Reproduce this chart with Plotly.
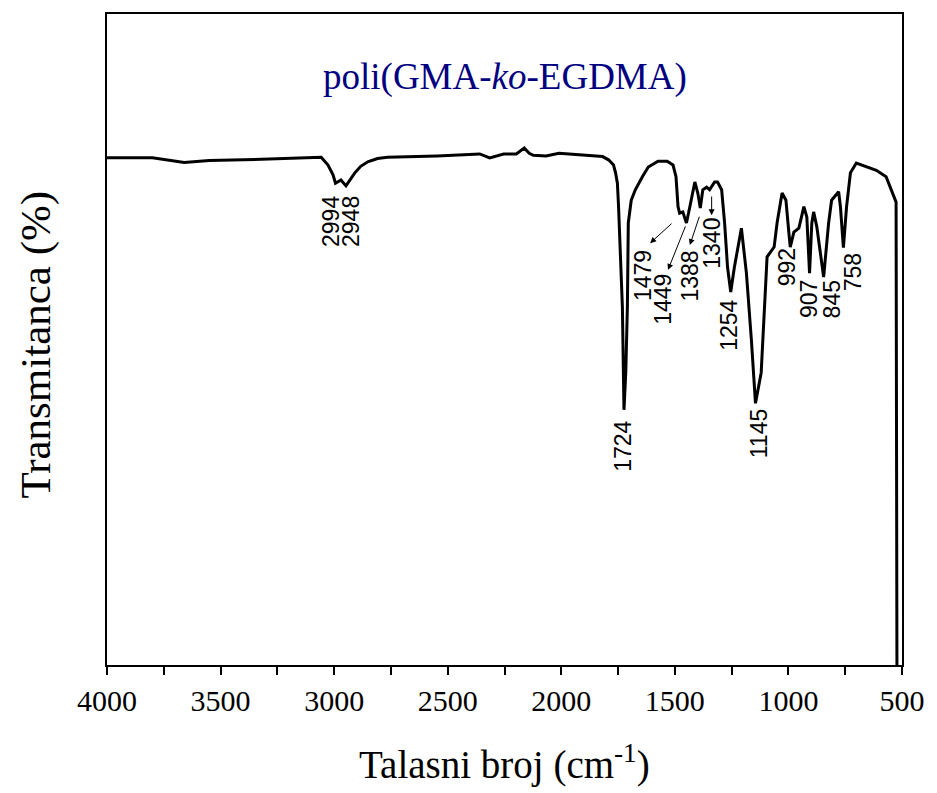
import plotly.graph_objects as go

# ---- data ----
wavenumber = [4000, 3800, 3660, 3550, 3400, 3200, 3100, 3057, 3027, 3005, 2994, 2970,
              2948, 2931, 2909, 2883, 2852, 2809, 2765, 2547, 2359, 2315, 2254, 2198,
              2163, 2141, 2123, 2067, 2010, 1966, 1892, 1849, 1818, 1792, 1770, 1761,
              1753, 1748, 1739, 1731, 1724, 1716, 1709, 1705, 1692, 1674, 1643, 1617,
              1574, 1534, 1508, 1495, 1486, 1479, 1465, 1449, 1434, 1412, 1399, 1388,
              1377, 1360, 1347, 1325, 1312, 1294, 1281, 1268, 1254, 1238, 1207, 1185,
              1163, 1145, 1120, 1107, 1094, 1063, 1050, 1028, 1011, 998, 992, 976,
              954, 932, 919, 907, 897, 889, 875, 845, 823, 810, 779, 771, 758, 744,
              727, 701, 657, 613, 570, 548, 531, 526, 522]
transmittance = [77.9, 77.9, 77.2, 77.5, 77.6, 77.8, 78.0, 78.0, 76.8, 75.3, 74.0, 74.5,
                 73.6, 74.5, 75.6, 76.6, 77.3, 77.8, 78.0, 78.2, 78.5, 77.9, 78.5, 78.5,
                 79.4, 78.6, 78.3, 78.2, 78.6, 78.5, 78.3, 78.2, 78.1, 77.6, 76.8, 75.6,
                 74.0, 70.5, 62.0, 55.0, 39.2, 45.0, 55.0, 67.9, 71.4, 73.0, 75.0, 76.5,
                 77.4, 77.4, 76.8, 75.0, 70.4, 69.4, 69.6, 67.9, 70.4, 74.2, 72.5, 70.2,
                 73.0, 73.4, 73.0, 74.2, 74.2, 73.0, 67.9, 61.1, 57.3, 61.1, 67.1, 60.2,
                 49.9, 40.2, 44.9, 55.0, 62.7, 64.2, 67.9, 72.5, 71.4, 66.4, 64.2, 66.5,
                 67.1, 70.4, 68.8, 60.2, 67.9, 69.6, 67.3, 59.6, 67.9, 71.4, 72.7, 70.4,
                 64.1, 70.4, 75.6, 77.1, 76.5, 76.0, 75.0, 73.0, 71.4, 71.1, -5.0]

# peak labels (text) and where each label sits (wavenumber, transmittance)
peak_labels = ["2994", "2948", "1724", "1479", "1449", "1388", "1340", "1254",
               "1145", "992", "907", "845", "758"]
label_x = [3014, 2926, 1726, 1643, 1552, 1434, 1334, 1259, 1128, 1006, 910, 810, 718]
label_y = [68.2, 68.2, 33.6, 59.8, 56.1, 59.8, 64.8, 52.2, 35.5, 61.1, 56.2, 56.1, 60.4]

# arrows: head (x, y) and tail (ax, ay) in data coordinates
arrow_head_x = [1609, 1530, 1434, 1338]
arrow_head_y = [64.8, 60.7, 64.5, 69.1]
arrow_tail_x = [1508, 1451, 1390, 1338]
arrow_tail_y = [68.0, 67.6, 69.1, 72.2]

x_ticks = [4000, 3500, 3000, 2500, 2000, 1500, 1000, 500]

fig = go.Figure()
fig.add_trace(go.Scatter(x=wavenumber, y=transmittance, mode="lines",
                         line=dict(color="black", width=3), showlegend=False,
                         hoverinfo="skip"))

annotations = []
for t, x, y in zip(peak_labels, label_x, label_y):
    annotations.append(dict(x=x, y=y, xref="x", yref="y", text=t, showarrow=False,
                            textangle=-90, xanchor="center", yanchor="middle",
                            font=dict(family="Liberation Sans, Arial, sans-serif",
                                      size=23, color="black")))
for hx, hy, tx, ty in zip(arrow_head_x, arrow_head_y, arrow_tail_x, arrow_tail_y):
    annotations.append(dict(x=hx, y=hy, ax=tx, ay=ty, xref="x", yref="y",
                            axref="x", ayref="y", text="", showarrow=True,
                            arrowhead=2, arrowsize=1.2, arrowwidth=1,
                            arrowcolor="black"))

serif = "Liberation Serif, Times New Roman, serif"
annotations.append(dict(x=0.5, y=0.903, xref="paper", yref="paper",
                        text="poli(GMA-<i>ko</i>-EGDMA)", showarrow=False,
                        xanchor="center", yanchor="middle",
                        font=dict(family=serif, size=37, color="#000080")))
annotations.append(dict(x=0.5, y=-0.150, xref="paper", yref="paper",
                        text="Talasni broj (cm<sup>-1</sup>)", showarrow=False,
                        xanchor="center", yanchor="middle",
                        font=dict(family=serif, size=39, color="black")))
annotations.append(dict(x=-0.0898, y=0.4916, xref="paper", yref="paper",
                        text="Transmitanca (%)", showarrow=False, textangle=-90,
                        xanchor="center", yanchor="middle",
                        font=dict(family=serif, size=43, color="black")))

fig.update_layout(
    width=937, height=793,
    margin=dict(l=107, r=28, t=14, b=128),
    paper_bgcolor="white", plot_bgcolor="white",
    annotations=annotations,
    xaxis=dict(range=[4000, 500], tickvals=x_ticks,
               ticktext=[str(v) for v in x_ticks],
               showline=True, linecolor="black", linewidth=2, mirror=True,
               ticks="outside", ticklen=8, tickwidth=1.5, tickcolor="black",
               minor=dict(dtick=250, tick0=0, ticks="outside", ticklen=8,
                          tickwidth=1.5, tickcolor="black"),
               showgrid=False, zeroline=False,
               tickfont=dict(family=serif, size=30, color="black")),
    yaxis=dict(range=[0, 100], showline=True, linecolor="black", linewidth=2,
               mirror=True, ticks="", showticklabels=False, showgrid=False,
               zeroline=False),
)

fig.write_html("out.html")
